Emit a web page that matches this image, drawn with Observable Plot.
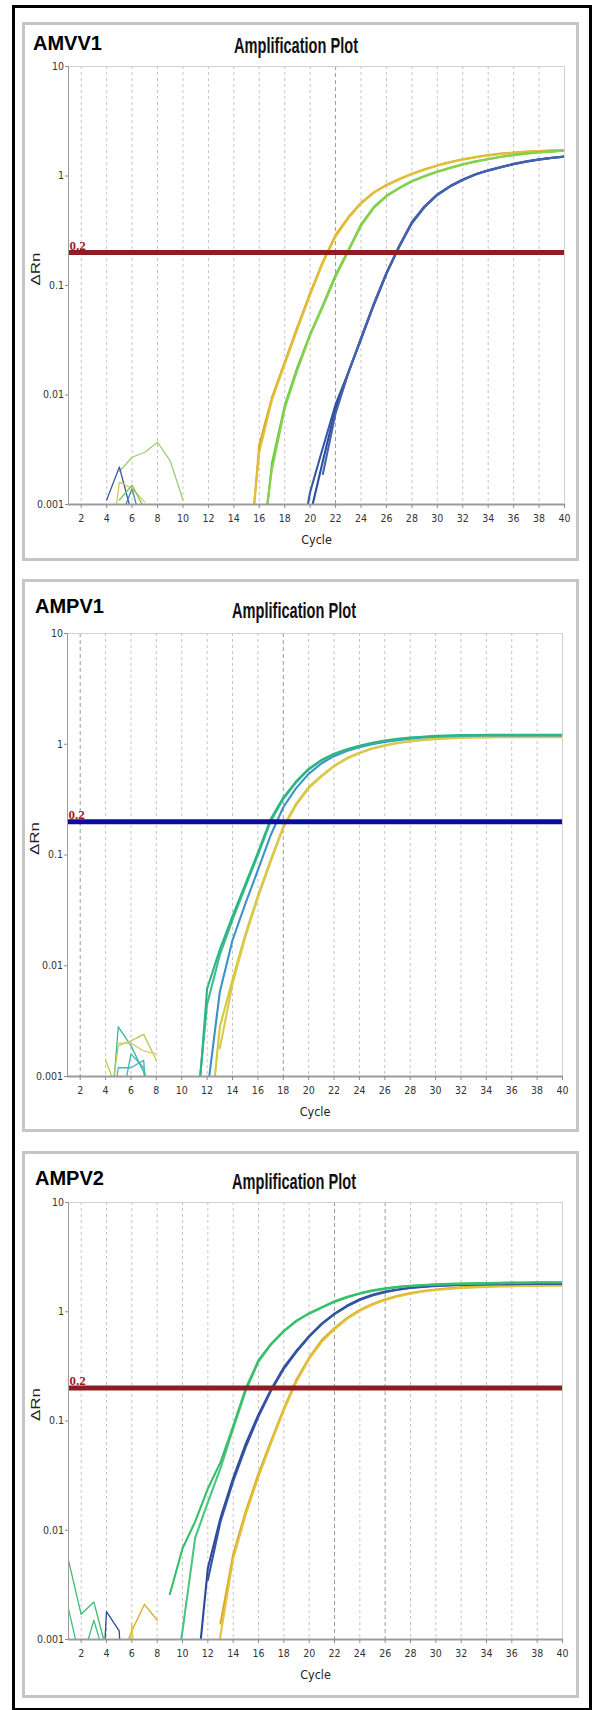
<!DOCTYPE html>
<html>
<head>
<meta charset="utf-8">
<script src="https://cdn.jsdelivr.net/npm/d3@7"></script>
<script src="https://cdn.jsdelivr.net/npm/@observablehq/plot@0.6"></script>
<style>
html, body { margin: 0; padding: 0; background: #fff; }
#page { position: relative; width: 592px; height: 1710px; overflow: hidden; background: #fff; }
.outer { position: absolute; left: 12px; top: 5px; width: 580px; height: 1705px; box-sizing: border-box; border: 3px solid #000; border-bottom-width: 2px; }
.box { position: absolute; box-sizing: border-box; border: 3px solid #c6c6c6; background: #fff; }
.tag { position: absolute; font: bold 20px "Liberation Sans", Arial, sans-serif; line-height: 20px; color: #000; white-space: nowrap; }
.ttl { position: absolute; font: bold 22px "Liberation Sans Narrow", "Liberation Sans", Arial, sans-serif; line-height: 22px; color: #111; white-space: nowrap; transform-origin: 0 0; }
.plot { position: absolute; left: 0; }
</style>
</head>
<body>
<div id="page"><div class="outer"></div></div>
<script>
// ---------------- shared axis content ----------------
const xDomain = [1, 40];
const yDomain = [0.001, 10];
const xTicks = [2, 4, 6, 8, 10, 12, 14, 16, 18, 20, 22, 24, 26, 28, 30, 32, 34, 36, 38, 40];
const xTickLabels = ["2", "4", "6", "8", "10", "12", "14", "16", "18", "20", "22", "24", "26", "28", "30", "32", "34", "36", "38", "40"];
const yTicks = [10, 1, 0.1, 0.01, 0.001];
const yTickLabels = ["10", "1", "0.1", "0.01", "0.001"];
const panelTags = ["AMVV1", "AMPV1", "AMPV2"];
const panelTitle = "Amplification Plot";
const xLabel = "Cycle";
const yLabel = "ΔRn";
const threshold = [0.2];
const thresholdText = ["0.2"];

// ---------------- AMVV1 (ΔRn per cycle, starting at "from") ----------------
const amvv1YellowA = {from: 15, dRn: [0.00015, 0.0035, 0.0095, 0.02, 0.042, 0.085, 0.165, 0.29, 0.42, 0.57, 0.71, 0.83, 0.94, 1.05, 1.15, 1.25, 1.34, 1.42, 1.49, 1.55, 1.6, 1.64, 1.67, 1.69, 1.71, 1.73]};
const amvv1YellowB = {from: 15, dRn: [0.0002, 0.003, 0.009, 0.019, 0.04, 0.082, 0.16, 0.28, 0.41, 0.56, 0.7, 0.82, 0.93, 1.04, 1.14, 1.24, 1.33, 1.41, 1.48, 1.54, 1.59, 1.63, 1.66, 1.69, 1.71, 1.72]};
const amvv1GreenA = {from: 16, dRn: [0.0002, 0.0024, 0.008, 0.018, 0.036, 0.066, 0.125, 0.21, 0.36, 0.52, 0.66, 0.78, 0.9, 1.0, 1.1, 1.19, 1.28, 1.36, 1.43, 1.5, 1.56, 1.61, 1.65, 1.68, 1.71]};
const amvv1GreenB = {from: 16, dRn: [0.0003, 0.0021, 0.0075, 0.017, 0.035, 0.064, 0.12, 0.205, 0.35, 0.51, 0.65, 0.77, 0.89, 0.99, 1.09, 1.18, 1.27, 1.35, 1.42, 1.49, 1.55, 1.6, 1.64, 1.67, 1.7]};
const amvv1BlueA = {from: 19, dRn: [0.0003, 0.0013, 0.0033, 0.0082, 0.016, 0.033, 0.068, 0.13, 0.23, 0.38, 0.53, 0.68, 0.81, 0.93, 1.04, 1.13, 1.21, 1.29, 1.36, 1.42, 1.47, 1.51]};
const amvv1BlueB = {from: 20, dRn: [0.0008, 0.0025, 0.0075, 0.016, 0.032, 0.066, 0.128, 0.225, 0.37, 0.52, 0.67, 0.8, 0.92, 1.03, 1.12, 1.2, 1.28, 1.35, 1.41, 1.46, 1.5]};
const amvv1BlueC = {from: 21, dRn: [0.0019, 0.0068, 0.0158, 0.033, 0.067, 0.13, 0.228, 0.375, 0.525, 0.675, 0.805, 0.925, 1.035, 1.125, 1.205, 1.285, 1.355, 1.415, 1.465, 1.505]};
const amvv1Noise1 = {from: 5, dRn: [0.002, 0.0027, 0.003, 0.0037, 0.0025, 0.0011]};
const amvv1Noise2 = {from: 4, dRn: [0.0011, 0.0022, 0.0008]};
const amvv1Noise3 = {from: 5, dRn: [0.0007, 0.0014, 0.0005]};
const amvv1Noise4 = {from: 4, dRn: [0.0002, 0.0016, 0.0014, 0.00105]};
const amvv1Noise5 = {from: 5, dRn: [0.0011, 0.0015, 0.0009]};

// ---------------- AMPV1 ----------------
const ampv1TealA = {from: 11, dRn: [0.0002, 0.0062, 0.014, 0.028, 0.054, 0.105, 0.21, 0.33, 0.46, 0.6, 0.72, 0.82, 0.9, 0.97, 1.03, 1.08, 1.12, 1.15, 1.17, 1.19, 1.2, 1.21, 1.21, 1.22, 1.22, 1.22, 1.22, 1.22, 1.22, 1.22]};
const ampv1TealB = {from: 11, dRn: [0.0003, 0.0045, 0.0125, 0.026, 0.051, 0.1, 0.2, 0.32, 0.45, 0.59, 0.71, 0.81, 0.89, 0.96, 1.02, 1.07, 1.11, 1.14, 1.16, 1.18, 1.19, 1.2, 1.2, 1.21, 1.21, 1.21, 1.21, 1.21, 1.21, 1.21]};
const ampv1Blue = {from: 12, dRn: [0.0007, 0.0058, 0.017, 0.036, 0.073, 0.15, 0.27, 0.4, 0.54, 0.67, 0.78, 0.87, 0.94, 1.0, 1.05, 1.09, 1.12, 1.15, 1.17, 1.18, 1.19, 1.2, 1.2, 1.2, 1.2, 1.2, 1.2, 1.2, 1.2]};
const ampv1YellowA = {from: 12, dRn: [0.0002, 0.0028, 0.0075, 0.019, 0.043, 0.09, 0.18, 0.29, 0.41, 0.52, 0.64, 0.75, 0.84, 0.92, 0.98, 1.03, 1.07, 1.1, 1.12, 1.14, 1.15, 1.16, 1.16, 1.17, 1.17, 1.17, 1.17, 1.17, 1.17]};
const ampv1YellowB = {from: 13, dRn: [0.0018, 0.0068, 0.018, 0.041, 0.086, 0.175, 0.28, 0.4, 0.51, 0.63, 0.74, 0.83, 0.91, 0.97, 1.02, 1.06, 1.09, 1.11, 1.13, 1.14, 1.15, 1.15, 1.16, 1.16, 1.16, 1.16, 1.16, 1.16]};
const ampv1Noise1 = {from: 4, dRn: [0.0001, 0.0028, 0.0019, 0.0011, 0.0003]};
const ampv1Noise2 = {from: 4, dRn: [0.0014, 0.0007]};
const ampv1Noise3 = {from: 4, dRn: [0.0003, 0.0019, 0.0021, 0.0024, 0.0014]};
const ampv1Noise4 = {from: 5, dRn: [0.002, 0.002, 0.0017, 0.0016]};
const ampv1Noise5 = {from: 4, dRn: [0.0002, 0.0012, 0.0012, 0.0014, 0.00005]};
const ampv1Noise6 = {from: 5, dRn: [0.0004, 0.0016, 0.0012, 0.0003]};

// ---------------- AMPV2 ----------------
const ampv2GreenA = {from: 9, dRn: [0.0026, 0.0068, 0.012, 0.024, 0.042, 0.09, 0.2, 0.36, 0.51, 0.67, 0.83, 0.97, 1.1, 1.25, 1.37, 1.48, 1.57, 1.64, 1.69, 1.73, 1.76, 1.78, 1.8, 1.81, 1.82, 1.83, 1.84, 1.85, 1.85, 1.86, 1.86, 1.86]};
const ampv2GreenB = {from: 9, dRn: [0.0002, 0.0012, 0.0085, 0.018, 0.037, 0.085, 0.19, 0.35, 0.5, 0.66, 0.82, 0.96, 1.09, 1.23, 1.35, 1.46, 1.55, 1.62, 1.68, 1.72, 1.75, 1.77, 1.79, 1.8, 1.81, 1.82, 1.83, 1.84, 1.84, 1.85, 1.85, 1.85]};
const ampv2BlueA = {from: 11, dRn: [0.0003, 0.0045, 0.013, 0.03, 0.062, 0.115, 0.195, 0.31, 0.44, 0.6, 0.78, 0.96, 1.14, 1.3, 1.43, 1.53, 1.6, 1.66, 1.7, 1.73, 1.75, 1.77, 1.78, 1.79, 1.8, 1.8, 1.8, 1.81, 1.81, 1.81]};
const ampv2BlueB = {from: 12, dRn: [0.0035, 0.012, 0.028, 0.058, 0.11, 0.19, 0.3, 0.43, 0.59, 0.77, 0.95, 1.12, 1.28, 1.41, 1.51, 1.59, 1.65, 1.69, 1.72, 1.74, 1.76, 1.77, 1.78, 1.79, 1.79, 1.8, 1.8, 1.8, 1.8]};
const ampv2YellowA = {from: 13, dRn: [0.0014, 0.006, 0.015, 0.033, 0.066, 0.13, 0.24, 0.38, 0.55, 0.71, 0.88, 1.04, 1.18, 1.3, 1.4, 1.48, 1.55, 1.6, 1.64, 1.67, 1.69, 1.71, 1.72, 1.73, 1.74, 1.74, 1.75, 1.75]};
const ampv2YellowB = {from: 12, dRn: [0.0001, 0.0011, 0.0055, 0.014, 0.031, 0.063, 0.125, 0.23, 0.37, 0.53, 0.69, 0.86, 1.02, 1.16, 1.28, 1.38, 1.46, 1.53, 1.58, 1.62, 1.65, 1.67, 1.69, 1.7, 1.71, 1.72, 1.72, 1.73, 1.73]};
const ampv2Noise1 = {from: 1, dRn: [0.0053, 0.0017, 0.0022, 0.0008]};
const ampv2Noise2 = {from: 1, dRn: [0.0019, 0.0006, 0.0015, 0.0006]};
const ampv2Noise3 = {from: 3, dRn: [0.00001, 0.0018, 0.0012, 0.00001]};
const ampv2Noise4 = {from: 5, dRn: [0.0006, 0.0012, 0.0021, 0.0015]};
const ampv2Noise5 = {from: 5, dRn: [0.00003, 0.0014, 0.00003]};

// ---------------- styling & layout ----------------
const panels = [
  {
    tag: panelTags[0], thrColor: "#8e1c21", darkGrid: [22],
    curves: [[amvv1YellowA, "#d8a526"], [amvv1YellowB, "#e2c03c"], [amvv1GreenA, "#66c935"], [amvv1GreenB, "#86d152"], [amvv1BlueA, "#3657a8"], [amvv1BlueB, "#2c4d9e"], [amvv1BlueC, "#4563ae"]],
    noise: [[amvv1Noise1, "#9dcf70"], [amvv1Noise2, "#3a5aa8"], [amvv1Noise3, "#4f7fb8"], [amvv1Noise4, "#dbc455"], [amvv1Noise5, "#74c648"]],
    box: {left: 22, top: 22, right: 579, bottom: 561},
    plot: {left: 68, right: 564, top: 66, bottom: 504},
    tagPos: {left: 33, top: 33}, titlePos: {cx: 296, top: 35}
  },
  {
    tag: panelTags[1], thrColor: "#0c0ca2", darkGrid: [2, 18],
    curves: [[ampv1YellowA, "#cfcb3a"], [ampv1YellowB, "#dcc84f"], [ampv1Blue, "#3a93c8"], [ampv1TealB, "#3dbd8f"], [ampv1TealA, "#2bb585"]],
    noise: [[ampv1Noise1, "#37b59c"], [ampv1Noise2, "#cfc54c"], [ampv1Noise3, "#b9cb4e"], [ampv1Noise4, "#d8cc60"], [ampv1Noise5, "#46b3c9"], [ampv1Noise6, "#3fb8a8"]],
    box: {left: 22, top: 579, right: 579, bottom: 1132},
    plot: {left: 67, right: 562, top: 633, bottom: 1076},
    tagPos: {left: 35, top: 596}, titlePos: {cx: 294, top: 600}
  },
  {
    tag: panelTags[2], thrColor: "#8e1c21", darkGrid: [22, 26],
    curves: [[ampv2YellowA, "#d6aa24"], [ampv2YellowB, "#e4c23c"], [ampv2BlueA, "#2a499b"], [ampv2BlueB, "#3654a5"], [ampv2GreenB, "#4cc57e"], [ampv2GreenA, "#34bf6b"]],
    noise: [[ampv2Noise1, "#3cbb70"], [ampv2Noise2, "#44bf78"], [ampv2Noise3, "#2f4a9a"], [ampv2Noise4, "#d6ad2c"], [ampv2Noise5, "#e2c44a"]],
    box: {left: 22, top: 1151, right: 579, bottom: 1698},
    plot: {left: 68, right: 562, top: 1202, bottom: 1639},
    tagPos: {left: 35, top: 1168}, titlePos: {cx: 294, top: 1171}
  }
];

const page = document.getElementById("page");
const tickFont = "'Liberation Sans Narrow', 'DejaVu Sans Condensed', 'Liberation Sans', Arial, sans-serif";

function rowsOf(list, prefix) {
  const rows = [];
  list.forEach(([s, color], k) => s.dRn.forEach((v, i) => rows.push({id: prefix + k, cycle: s.from + i, dRn: v, color})));
  return rows;
}

function addDiv(cls, text, css) {
  const d = document.createElement("div");
  d.className = cls;
  d.textContent = text;
  Object.assign(d.style, css);
  page.appendChild(d);
  return d;
}

panels.forEach((p) => {
  addDiv("box", "", {left: p.box.left + "px", top: p.box.top + "px", width: (p.box.right - p.box.left) + "px", height: (p.box.bottom - p.box.top) + "px"});
  addDiv("tag", p.tag, {left: p.tagPos.left + "px", top: p.tagPos.top + "px"});
  const t = addDiv("ttl", panelTitle, {left: "0px", top: p.titlePos.top + "px"});
  const w = t.getBoundingClientRect().width;
  const target = 124;
  t.style.transform = `scaleX(${target / w})`;
  t.style.left = (p.titlePos.cx - target / 2) + "px";

  const mt = 20, mb = 50;
  const curveRows = rowsOf(p.curves, "c");
  const noiseRows = rowsOf(p.noise, "n");
  const chart = Plot.plot({
    width: 592,
    height: mt + (p.plot.bottom - p.plot.top) + mb,
    marginTop: mt,
    marginBottom: mb,
    marginLeft: p.plot.left,
    marginRight: 592 - p.plot.right,
    x: {domain: xDomain},
    y: {type: "log", domain: yDomain},
    color: {type: "identity"},
    style: {fontFamily: tickFont, fontSize: "10.5px", color: "#333", background: "transparent", overflow: "visible"},
    marks: [
      Plot.gridX({ticks: xTicks.filter(d => !p.darkGrid.includes(d)), stroke: "#c4c4c4", strokeOpacity: 1, strokeDasharray: "3,3"}),
      Plot.gridX({ticks: p.darkGrid, stroke: "#9a9a9a", strokeOpacity: 1, strokeDasharray: "4,3"}),
      Plot.frame({stroke: "#d0d0d0"}),
      Plot.line(noiseRows, {x: "cycle", y: "dRn", z: "id", stroke: "color", strokeWidth: 1.3, clip: true}),
      Plot.line(curveRows, {x: "cycle", y: "dRn", z: "id", stroke: "color", strokeWidth: 2.1, clip: true}),
      Plot.ruleY(threshold, {stroke: p.thrColor, strokeWidth: 5}),
      Plot.text(thresholdText, {x: () => xDomain[0], y: (d, i) => threshold[i], text: d => d, textAnchor: "start", lineAnchor: "bottom", dx: 1, dy: -3, fill: "#a3181c", fontSize: 13, fontWeight: "bold", fontFamily: "'Liberation Serif', 'Times New Roman', serif"}),
      Plot.ruleX([xDomain[0]], {stroke: "#9c9c9c"}),
      Plot.ruleY([yDomain[0]], {stroke: "#9c9c9c", strokeWidth: 2}),
      Plot.axisY({ticks: yTicks, tickFormat: d => yTickLabels[yTicks.indexOf(d)], tickSize: 3, tickPadding: 1.5, stroke: "#8c8c8c", label: null}),
      Plot.axisX({ticks: xTicks, tickFormat: d => xTickLabels[xTicks.indexOf(d)], tickSize: 4, tickPadding: 6, stroke: "#8c8c8c", label: null}),
      Plot.text([xLabel], {text: d => d, frameAnchor: "bottom", dy: 35, lineAnchor: "middle", fontSize: 12.5, fill: "#222"}),
      Plot.text([yLabel], {text: d => d, frameAnchor: "left", dx: -33, rotate: -90, fontSize: 13, fill: "#222", fontFamily: "'Liberation Sans', Arial, sans-serif"})
    ]
  });
  // the source screenshot is stretched vertically: lengthen the rotated ΔRn label to match
  d3.select(chart).selectAll("text").filter(function () { return this.textContent === yLabel; })
    .attr("textLength", 33).attr("lengthAdjust", "spacingAndGlyphs");
  chart.classList.add("plot");
  chart.style.top = (p.plot.top - mt) + "px";
  chart.style.left = "0px";
  chart.style.position = "absolute";
  page.appendChild(chart);
});
</script>
</body>
</html>
